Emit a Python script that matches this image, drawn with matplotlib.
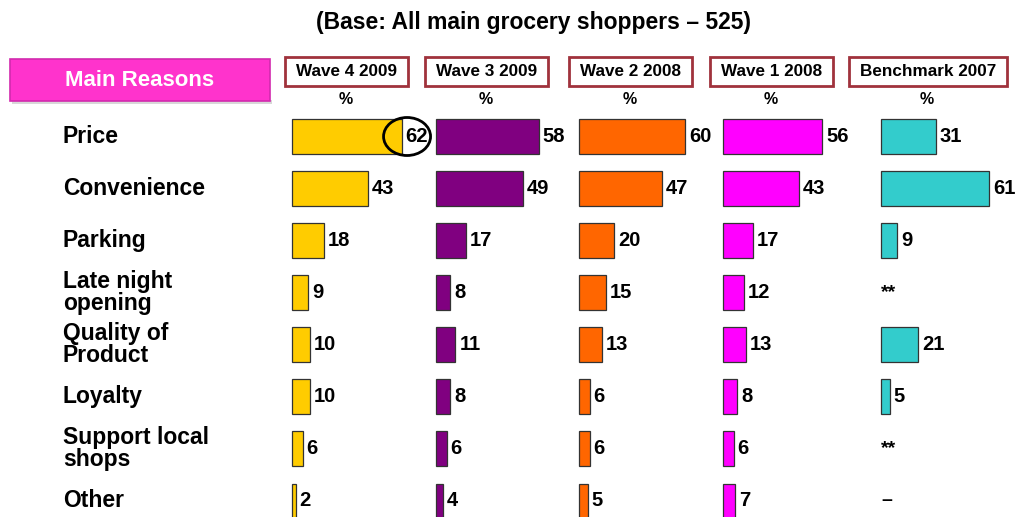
import numpy as np
import matplotlib
matplotlib.use("Agg")
import matplotlib.pyplot as plt
from matplotlib import patches, transforms

plt.rcParams['font.family'] = ['Liberation Sans', 'DejaVu Sans']
plt.rcParams['font.weight'] = 'bold'

reasons = ["Price", "Convenience", "Parking", "Late night\nopening", "Quality of\nProduct",
           "Loyalty", "Support local\nshops", "Other"]
waves = ["Wave 4 2009", "Wave 3 2009", "Wave 2 2008", "Wave 1 2008", "Benchmark 2007"]

wave4 = [62, 43, 18, 9, 10, 10, 6, 2]
wave3 = [58, 49, 17, 8, 11, 8, 6, 4]
wave2 = [60, 47, 20, 15, 13, 6, 6, 5]
wave1 = [56, 43, 17, 12, 13, 8, 6, 7]
bench = [31, 61, 9, None, 21, 5, None, None]
bench_missing = {3: "**", 6: "**", 7: "–"}

colors = ["#FFCC00", "#800080", "#FF6600", "#FF00FF", "#33CCCC"]

W, H = 1017, 517
fig = plt.figure(figsize=(W / 100, H / 100), dpi=100)

def fx(px):
    return px / W

def fy(py):
    return 1 - py / H

# column layout in pixels
col_left = [292, 436, 579, 723, 881]
box_lr = [(285, 408), (425, 548), (569, 692), (710, 833), (849, 1007)]
px_per_unit = 1.77
col_w = 125
row0, row_step = 136.5, 52.07
top_px = 110

ylim_top = (top_px - row0) / row_step
ylim_bot = (H - row0) / row_step

fig.text(fx(533), fy(22), "(Base: All main grocery shoppers – 525)", ha='center', va='center',
         fontsize=16.5, fontweight='bold')

# "Main Reasons" banner
shadow = patches.Rectangle((fx(12), fy(104)), fx(260), 4 / H, transform=fig.transFigure,
                           facecolor='#d8d8d8', edgecolor='none')
fig.add_artist(shadow)
banner = patches.Rectangle((fx(10), fy(101)), fx(260), 42 / H, transform=fig.transFigure,
                           facecolor='#FF33CC', edgecolor='#D22AAE', linewidth=1.2)
fig.add_artist(banner)
fig.text(fx(140), fy(80), "Main Reasons", ha='center', va='center', color='white',
         fontsize=16, fontweight='bold')

series = [wave4, wave3, wave2, wave1, bench]
axes = []
for k, (vals, name) in enumerate(zip(series, waves)):
    ax = fig.add_axes([fx(col_left[k]), 0, col_w / W, (H - top_px) / H])
    ax.set_xlim(0, col_w / px_per_unit)
    ax.set_ylim(ylim_bot, ylim_top)
    ax.axis('off')
    y = np.arange(len(reasons))
    for i, v in enumerate(vals):
        if v is None:
            ax.text(0, i, bench_missing[i], ha='left', va='center', fontsize=14,
                    fontweight='bold', clip_on=False)
            continue
        ax.barh(i, v, height=0.67, left=0, color=colors[k], edgecolor='#333333',
                linewidth=0.9, clip_on=False)
        ax.text(v + 4 / px_per_unit, i, str(v), ha='left', va='center', fontsize=14.5,
                fontweight='bold', clip_on=False)
    axes.append(ax)

    # column header box
    l, r = box_lr[k]
    fig.add_artist(patches.Rectangle((fx(l), fy(86)), (r - l) / W, 29 / H,
                                     transform=fig.transFigure, facecolor='white',
                                     edgecolor='#A0323C', linewidth=2))
    fig.text(fx((l + r) / 2), fy(72), name, ha='center', va='center', fontsize=12.3,
             fontweight='bold')
    fig.text(fx((l + r) / 2 - 1), fy(100), "%", ha='center', va='center', fontsize=11.5,
             fontweight='bold')

# category labels
lab_tr = transforms.blended_transform_factory(fig.transFigure, axes[0].transData)
for i, lab in enumerate(reasons):
    fig.text(fx(63), i, lab, transform=lab_tr, ha='left', va='center', fontsize=16.5,
             fontweight='bold', linespacing=0.95)

# highlight ring around the top Wave 4 value
ring_tr = transforms.IdentityTransform() + transforms.ScaledTranslation(
    wave4[0] + 3, 0, axes[0].transData)
ring = patches.Ellipse((0, 0), 47, 38, transform=ring_tr, facecolor='none',
                       edgecolor='black', linewidth=2, clip_on=False)
fig.add_artist(ring)

fig.savefig("out.png", dpi=100)
